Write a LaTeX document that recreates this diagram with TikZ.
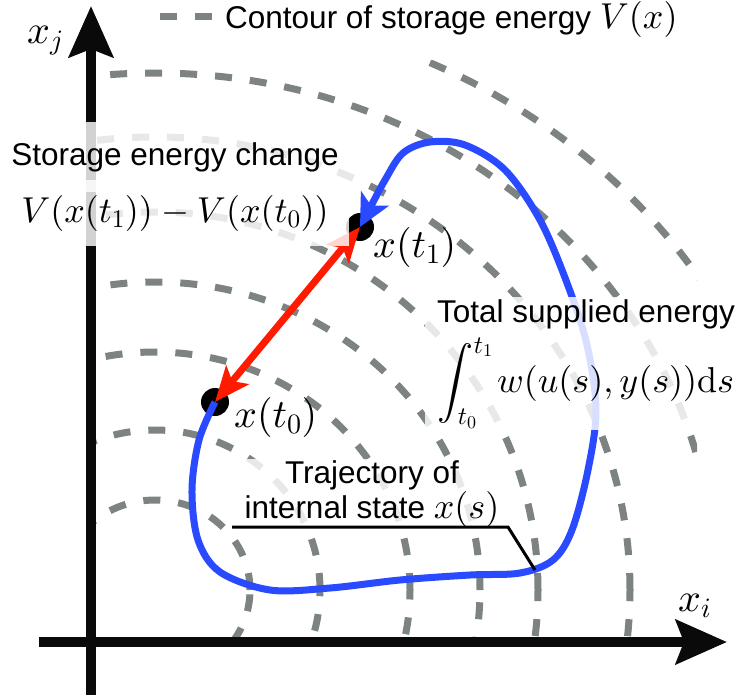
\documentclass[tikz,border=0pt]{standalone}
\usepackage[no-math]{fontspec}
\setmainfont{Liberation Sans}
\DeclareFontFamily{OML}{cmm}{\skewchar\font'177}
\DeclareFontShape{OML}{cmm}{m}{it}{<->cmmi10}{}
\DeclareFontFamily{OT1}{cmr}{\hyphenchar\font45}
\DeclareFontShape{OT1}{cmr}{m}{n}{<->cmr10}{}
\DeclareFontFamily{OMS}{cmsy}{\skewchar\font'60}
\DeclareFontShape{OMS}{cmsy}{m}{n}{<->cmsy10}{}
\DeclareFontFamily{OMX}{cmex}{}
\DeclareFontShape{OMX}{cmex}{m}{n}{<->cmex10}{}
\usetikzlibrary{arrows.meta}
\definecolor{contourgray}{RGB}{124,131,129}
\definecolor{trajblue}{RGB}{42,74,255}
\definecolor{arrred}{RGB}{255,26,0}
\definecolor{axisblack}{RGB}{10,10,10}
\newcommand{\mth}[1]{{\fontsize{36}{35}\selectfont$#1$}}
\begin{document}
\begin{tikzpicture}[x=1pt,y=-1pt,
  contourline/.style={contourgray, line width=7pt, dash pattern=on 17pt off 18pt},
  axisline/.style={axisblack, line width=10pt, -{Stealth[length=51pt,width=44pt,inset=8pt]}},
  dotnode/.style={circle, fill=black, inner sep=0pt, minimum size=28pt},
  traj/.style={trajblue, line width=7pt, -{Stealth[length=32pt,width=31pt,inset=8pt]}},
  deltaarrow/.style={arrred, line width=7pt, {Stealth[length=35pt,width=29pt,inset=8pt]}-{Stealth[length=35pt,width=29pt,inset=8pt]}},
  veil/.style={fill=white, fill opacity=0.82, text opacity=1},
  sanstext/.style={font=\fontsize{31.5}{35}\selectfont},
  mathbig/.style={font=\fontsize{36}{40}\selectfont},
  ptlabel/.style={font=\fontsize{40}{44}\selectfont, inner sep=0pt},
  leaderline/.style={black, line width=3pt},
]
\useasboundingbox (0,0) rectangle (747,694);

% contours of storage energy
\begin{scope}
\clip (91,60) rectangle (697,641);
\foreach \rx/\ry in {95/90,165/160,255/238,325/308,383/378,475/453,561/517,644/583}
  \draw[contourline] (155,590) ellipse [x radius=\rx pt, y radius=\ry pt];
\end{scope}

% legend
\coordinate (legA) at (160,16);
\coordinate (legB) at (212,16);
\draw[contourline] (legA) -- (legB);
\node[sanstext, inner sep=0pt, anchor=base west] (legend) at (225,28) {Contour of storage energy \mth{V(x)}};

% axes
\coordinate (ybot) at (91,700);
\coordinate (ytop) at (91,6);
\coordinate (xleft) at (39,642);
\coordinate (xright) at (727,642);
\draw[axisline] (ybot) -- (ytop);
\draw[axisline] (xleft) -- (xright);

% states
\node[dotnode] (t1) at (360,227) {};
\node[dotnode] (t0) at (215,402) {};

\draw[deltaarrow] (t0.center) -- (t1.center);

\draw[traj] plot[smooth, tension=0.55] coordinates {(t0.center) (199,440) (192,490) (198,540) (220,572) (270,590) (330,588) (400,580) (470,575) (520,573) (553,560) (572,530) (588,470) (596,410) (587,345) (567,283) (540,220) (505,170) (465,145) (430,142) (403,153) (385,180) (370,208) (t1.center)};

% annotations
\node[veil, sanstext, inner xsep=20pt, inner ysep=20pt, anchor=base] (sechange) at (175,165) {Storage energy change};
\node[veil, mathbig, inner xsep=20pt, inner ysep=15pt, anchor=base] (sediff) at (175,222) {$V(x(t_1))-V(x(t_0))$};

\node[veil, sanstext, align=center, inner xsep=12pt, inner ysep=2pt, anchor=north] (supply) at (586,297) {Total supplied energy\\[8pt]\mth{\displaystyle\int_{t_0}^{t_1}\mkern-1mu w(u(s),y(s))\mathrm{d}s}};

\node[veil, sanstext, align=center, inner xsep=6pt, inner ysep=2pt] (trajlabel) at (372,494) {Trajectory of\\internal state \mth{x(s)}};

\coordinate (leadA) at (232,527);
\coordinate (leadB) at (508,527);
\coordinate (leadC) at (535,570);
\draw[leaderline] (leadA) -- (leadB) -- (leadC);

\node[ptlabel, anchor=base west] (lt1) at (373,257) {$x(t_1)$};
\node[ptlabel, anchor=base west] (lt0) at (234,427) {$x(t_0)$};
\node[ptlabel, anchor=base west] (lxj) at (27,43) {$x_j$};
\node[ptlabel, anchor=base west] (lxi) at (678,611) {$x_i$};
\end{tikzpicture}
\end{document}
